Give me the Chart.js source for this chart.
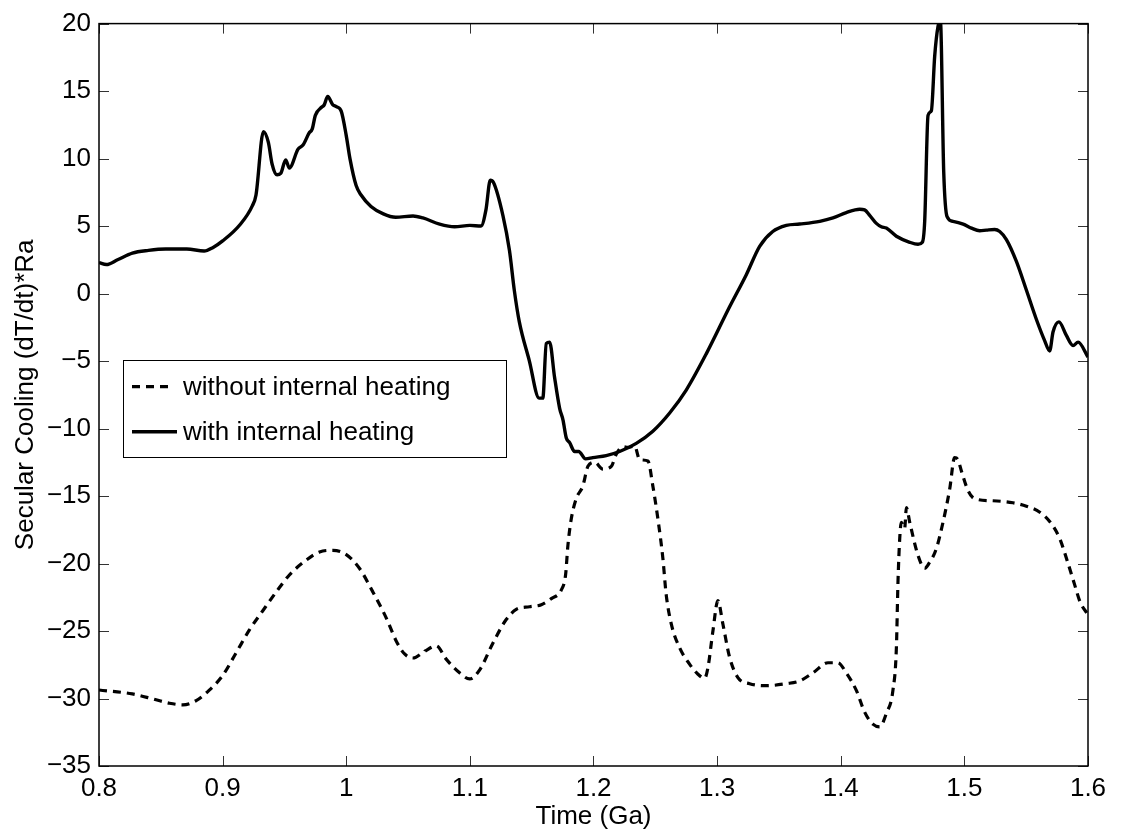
<!DOCTYPE html>
<html>
<head>
<meta charset="utf-8">
<title>Secular cooling</title>
<script src="https://cdn.jsdelivr.net/npm/chart.js@4/dist/chart.umd.min.js"></script>
<style>
  html, body { margin: 0; padding: 0; background: #fff; }
  #wrap { width: 1121px; height: 834px; }
</style>
</head>
<body>
<div id="wrap"><canvas id="cooling" width="1121" height="834"></canvas></div>
<script>
// time (Ga) and secular cooling (dT/dt)*Ra, without internal heating
const timeWithout = [
  0.800, 0.827, 0.8435, 0.857, 0.8678, 0.8786, 0.889, 0.900, 0.911, 0.9218,
  0.9325, 0.9434, 0.954, 0.9676, 0.9784, 0.9892, 1.000, 1.0108, 1.0215, 1.0324,
  1.0405, 1.0472, 1.054, 1.0634, 1.0728, 1.081, 1.0917, 1.0998, 1.1078, 1.1186,
  1.1294, 1.1375, 1.1483, 1.1578, 1.1659, 1.174, 1.1774, 1.1793, 1.182, 1.186,
  1.1914, 1.1955, 1.2009, 1.2076, 1.2144, 1.2184, 1.2238, 1.2278, 1.2333, 1.2373,
  1.244, 1.248, 1.2521, 1.2561, 1.2588, 1.263, 1.2697, 1.2777, 1.2845, 1.2899,
  1.2926, 1.2966, 1.3006, 1.3047, 1.3101, 1.3168, 1.3263, 1.3398, 1.356, 1.3668,
  1.3775, 1.3897, 1.3977, 1.4045, 1.4126, 1.4193, 1.426, 1.4315, 1.4369, 1.4422,
  1.445, 1.4463, 1.4477, 1.449, 1.4517, 1.4531, 1.4558, 1.4625, 1.4679, 1.4706,
  1.4773, 1.4827, 1.4881, 1.4921, 1.4948, 1.4976, 1.503, 1.5083, 1.5231, 1.5393,
  1.5502, 1.561, 1.5704, 1.5771, 1.5839, 1.5893, 1.5934, 1.600
];
const coolingWithout = [
  -29.37, -29.66, -30.03, -30.35, -30.47, -30.15, -29.4, -28.3, -26.6, -24.9,
  -23.5, -22.1, -20.85, -19.75, -19.14, -19.02, -19.34, -20.37, -22.1, -24.04,
  -25.75, -26.7, -27.0, -26.5, -26.1, -27.1, -28.1, -28.55, -27.9, -25.9,
  -24.15, -23.4, -23.2, -23.05, -22.6, -21.95, -20.85, -18.65, -16.7, -15.2,
  -14.25, -12.8, -12.5, -13.0, -12.8, -11.9, -11.35, -11.4, -11.3, -12.3,
  -12.4, -14.25, -16.7, -19.6, -22.3, -24.5, -26.25, -27.45, -28.2, -28.5,
  -27.7, -25.0, -22.75, -24.5, -26.95, -28.45, -28.9, -29.05, -28.9, -28.7,
  -28.1, -27.35, -27.35, -28.1, -29.4, -31.0, -31.9, -32.1, -31.1, -29.4,
  -26.25, -21.35, -18.15, -16.95, -17.4, -15.85, -16.95, -19.4, -20.35, -20.1,
  -18.9, -16.95, -14.5, -12.15, -12.3, -13.15, -14.6, -15.2, -15.35, -15.5,
  -15.75, -16.2, -17.05, -18.15, -20.0, -21.6, -22.8, -23.8
];

// time (Ga) and secular cooling (dT/dt)*Ra, with internal heating
const timeWith = [
  0.800, 0.806, 0.815, 0.827, 0.840, 0.854, 0.871, 0.885, 0.892, 0.900,
  0.914, 0.924, 0.927, 0.933, 0.937, 0.940, 0.944, 0.947, 0.951, 0.954,
  0.961, 0.965, 0.970, 0.9725, 0.975, 0.980, 0.982, 0.985, 0.989, 0.992,
  0.996, 1.000, 1.003, 1.008, 1.012, 1.020, 1.030, 1.040, 1.054, 1.062,
  1.0755, 1.0876, 1.100, 1.109, 1.113, 1.1165, 1.119, 1.1267, 1.132, 1.136,
  1.140, 1.148, 1.156, 1.159, 1.1618, 1.1645, 1.1685, 1.1726, 1.1753, 1.178,
  1.1807, 1.1847, 1.188, 1.1936, 1.1995, 1.2103, 1.2211, 1.2346, 1.248, 1.2616,
  1.275, 1.2913, 1.310, 1.3236, 1.3344, 1.345, 1.356, 1.3668, 1.383, 1.3937,
  1.4045, 1.4153, 1.4193, 1.4234, 1.4288, 1.4328, 1.4369, 1.445, 1.4558, 1.4625,
  1.466, 1.4679, 1.4706, 1.4733, 1.476, 1.4787, 1.4806, 1.4833, 1.486, 1.4908,
  1.499, 1.5057, 1.5124, 1.5178, 1.5245, 1.5286, 1.534, 1.542, 1.550, 1.5582,
  1.565, 1.569, 1.5717, 1.5765, 1.5825, 1.5879, 1.592, 1.600
];
const coolingWith = [
  2.3, 2.15, 2.5, 3.0, 3.2, 3.3, 3.3, 3.15, 3.4, 3.9,
  5.1, 6.5, 7.3, 12.0, 11.2, 9.6, 8.8, 8.9, 9.9, 9.3,
  10.7, 11.0, 11.9, 12.2, 13.2, 13.8, 13.95, 14.6, 14.0, 13.85,
  13.5, 11.7, 10.0, 8.0, 7.3, 6.45, 5.9, 5.65, 5.75, 5.6,
  5.15, 4.95, 5.05, 5.0, 6.2, 8.4, 8.25, 5.8, 3.2, 0.2,
  -2.1, -4.95, -7.75, -7.75, -3.7, -3.6, -6.2, -8.5, -9.35, -10.7,
  -11.05, -11.7, -11.7, -12.25, -12.15, -12.0, -11.7, -11.1, -10.2, -8.85,
  -7.15, -4.45, -1.0, 1.4, 3.5, 4.6, 5.05, 5.15, 5.35, 5.6,
  6.0, 6.25, 6.2, 5.8, 5.2, 4.95, 4.85, 4.25, 3.8, 3.65,
  3.8, 5.35, 13.2, 13.55, 17.6, 19.8, 20.2, 9.0, 5.7, 5.35,
  5.15, 4.85, 4.65, 4.7, 4.75, 4.6, 4.0, 2.4, 0.3, -1.9,
  -3.5, -4.25, -2.85, -2.1, -3.1, -3.85, -3.6, -4.7
];

const xTickValues = [0.8, 0.9, 1.0, 1.1, 1.2, 1.3, 1.4, 1.5, 1.6];
const yTickValues = [-35, -30, -25, -20, -15, -10, -5, 0, 5, 10, 15, 20];

const FONT = "'Liberation Sans', Arial, Helvetica, sans-serif";
const FONT_SIZE = 26;

function toPoints(xs, ys) {
  return xs.map((x, i) => ({ x: x, y: ys[i] }));
}

// frame around the plot with inward ticks on all four sides
const axesBox = {
  id: 'axesBox',
  afterDatasetsDraw(chart) {
    const { ctx, chartArea: a, scales } = chart;
    const len = 10;
    ctx.save();
    ctx.strokeStyle = '#333';
    ctx.lineWidth = 1;
    ctx.beginPath();
    xTickValues.forEach(v => {
      const px = Math.round(scales.x.getPixelForValue(v)) + 0.5;
      ctx.moveTo(px, a.bottom); ctx.lineTo(px, a.bottom - len);
      ctx.moveTo(px, a.top); ctx.lineTo(px, a.top + len);
    });
    yTickValues.forEach(v => {
      const py = Math.round(scales.y.getPixelForValue(v)) + 0.5;
      ctx.moveTo(a.left, py); ctx.lineTo(a.left + len, py);
      ctx.moveTo(a.right, py); ctx.lineTo(a.right - len, py);
    });
    ctx.stroke();
    ctx.strokeStyle = '#000';
    ctx.lineWidth = 1.5;
    ctx.strokeRect(a.left, a.top, a.right - a.left, a.bottom - a.top);
    ctx.restore();
  }
};

// boxed legend inside the plot, left side
const boxLegend = {
  id: 'boxLegend',
  afterDraw(chart) {
    const { ctx } = chart;
    const box = { x: 123, y: 360, w: 383, h: 97 };
    const rows = [386.7, 431.7];
    ctx.save();
    ctx.fillStyle = '#fff';
    ctx.fillRect(box.x, box.y, box.w, box.h);
    ctx.strokeStyle = '#000';
    ctx.lineWidth = 1;
    ctx.strokeRect(box.x + 0.5, box.y + 0.5, box.w, box.h);
    chart.data.datasets.forEach((ds, i) => {
      const y = rows[i];
      ctx.beginPath();
      ctx.setLineDash(ds.borderDash || []);
      ctx.lineWidth = ds.borderWidth;
      ctx.strokeStyle = ds.borderColor;
      ctx.moveTo(132, y);
      ctx.lineTo(i === 0 ? 173 : 177, y);
      ctx.stroke();
      ctx.setLineDash([]);
      ctx.fillStyle = '#000';
      ctx.font = FONT_SIZE + 'px ' + FONT;
      ctx.textBaseline = 'middle';
      ctx.textAlign = 'left';
      ctx.fillText(ds.label, 183, y + 1);
    });
    ctx.restore();
  }
};

const minus = v => String(v).replace('-', '\u2212');

new Chart(document.getElementById('cooling'), {
  type: 'line',
  data: {
    datasets: [
      {
        label: 'without internal heating',
        data: toPoints(timeWithout, coolingWithout),
        borderColor: '#000',
        borderWidth: 3.2,
        borderDash: [8, 6],
        pointRadius: 0,
        cubicInterpolationMode: 'monotone'
      },
      {
        label: 'with internal heating',
        data: toPoints(timeWith, coolingWith),
        borderColor: '#000',
        borderWidth: 3.4,
        pointRadius: 0,
        cubicInterpolationMode: 'monotone'
      }
    ]
  },
  options: {
    responsive: false,
    animation: false,
    layout: { padding: { top: 17, right: 33, left: 0, bottom: 0 } },
    plugins: {
      legend: { display: false },
      tooltip: { enabled: false }
    },
    scales: {
      x: {
        type: 'linear',
        min: 0.8,
        max: 1.6,
        afterBuildTicks: s => { s.ticks = xTickValues.map(v => ({ value: v })); },
        afterFit: s => { s.height = 68; },
        grid: { display: false, drawTicks: false },
        border: { display: false },
        ticks: {
          color: '#000',
          padding: 7,
          maxRotation: 0,
          font: { family: FONT, size: FONT_SIZE },
          callback: v => minus(Number(v.toFixed(1)))
        },
        title: {
          display: true,
          text: 'Time (Ga)',
          color: '#000',
          font: { family: FONT, size: FONT_SIZE },
          padding: { top: 0, bottom: 2 }
        }
      },
      y: {
        min: -35,
        max: 20,
        afterBuildTicks: s => { s.ticks = yTickValues.map(v => ({ value: v })); },
        afterFit: s => { s.width = 99; },
        grid: { display: false, drawTicks: false },
        border: { display: false },
        ticks: {
          color: '#000',
          padding: 8,
          font: { family: FONT, size: FONT_SIZE },
          callback: v => minus(v)
        },
        title: {
          display: true,
          text: 'Secular Cooling (dT/dt)*Ra',
          color: '#000',
          font: { family: FONT, size: FONT_SIZE },
          padding: { top: 10, bottom: 0 }
        }
      }
    }
  },
  plugins: [axesBox, boxLegend]
});
</script>
</body>
</html>
